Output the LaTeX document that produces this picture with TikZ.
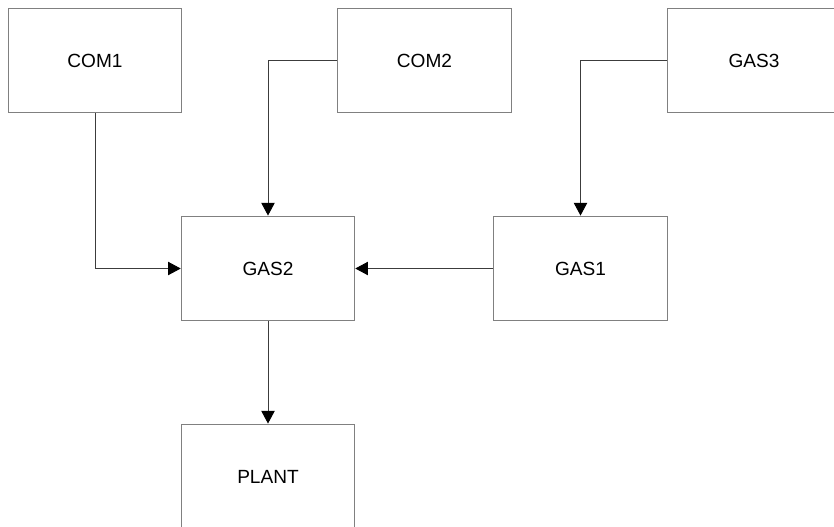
\documentclass[tikz,border=0pt]{standalone}
\usepackage{fontspec}
\setmainfont{Liberation Sans}
\usetikzlibrary{arrows.meta}
\definecolor{boxgray}{RGB}{128,128,128}
\definecolor{linegray}{RGB}{60,60,60}

\begin{document}
\begin{tikzpicture}[x=0.75pt, y=-0.75pt,
    unitbox/.style={draw=boxgray, line width=0.9pt, fill=white, inner sep=0pt,
        minimum width=130pt, minimum height=78.5pt, font=\fontsize{14.3}{17}\selectfont},
    feed/.style={draw=linegray, line width=0.75pt,
        -{Triangle[length=9.5pt, width=10pt, color=black]}}]
    \useasboundingbox (0,0) rectangle (834,526);
    \clip (0,0) rectangle (834,526);

    \node[unitbox] (com1) at (95,60.5) {COM1};
    \node[unitbox] (com2) at (424.5,60.5) {COM2};
    \node[unitbox] (gas3) at (754,60.5) {GAS3};
    \node[unitbox] (gas2) at (268,268.5) {GAS2};
    \node[unitbox] (gas1) at (580.5,268.5) {GAS1};
    \node[unitbox] (plant) at (268,476.5) {PLANT};

    \draw[feed] (com1.south) |- (gas2.west);
    \draw[feed] (com2.west) -| (gas2.north);
    \draw[feed] (gas3.west) -| (gas1.north);
    \draw[feed] (gas1.west) -- (gas2.east);
    \draw[feed] (gas2.south) -- (plant.north);
\end{tikzpicture}
\end{document}
